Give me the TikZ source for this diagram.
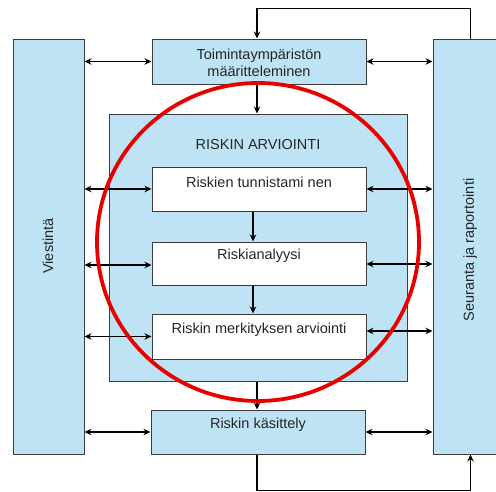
\documentclass[tikz,border=0pt]{standalone}
\usepackage{fontspec}
\setmainfont{Liberation Sans}
\usetikzlibrary{arrows.meta,calc}
\definecolor{boxblue}{RGB}{189,227,245}
\definecolor{edge}{RGB}{60,60,60}
\definecolor{ringred}{RGB}{232,0,0}
\tikzset{
  blue box/.style={draw=edge, fill=boxblue, line width=1pt, inner sep=0pt},
  white box/.style={draw=edge, fill=white, line width=1pt, inner sep=0pt},
  lbl/.style={font=\fontsize{14.5}{17}\selectfont, text=black!85, align=center, inner sep=0pt},
  arr/.style={-{Stealth[length=7pt,width=6.5pt]}, line width=1.5pt},
  dbl/.style={{Stealth[length=7pt,width=6.5pt]}-{Stealth[length=7pt,width=6.5pt]}, line width=1.5pt},
}
\begin{document}
\begin{tikzpicture}[x=1pt,y=-1pt]
\useasboundingbox (0,0) rectangle (496,491);
\clip (0,0) rectangle (496,491);
% side boxes
\node[blue box, minimum width=71pt, minimum height=415pt] (viest) at (48.5,246.5) {};
\node[blue box, minimum width=75pt, minimum height=415pt] (seur) at (470.5,246.5) {};
\node[lbl, rotate=90] (viestt) at (48,246) {Viestintä};
\node[lbl, rotate=90] (seurt) at (470,250) {Seuranta ja raportointi};
% top box
\node[blue box, minimum width=214pt, minimum height=45pt] (top) at (259,61.5) {};
\node[lbl] (topt) at (259,62.5) {Toimintaympäristön\\määritteleminen};
% big box
\node[blue box, minimum width=298pt, minimum height=267pt] (big) at (258,247.5) {};
\node[lbl] (bigt) at (258,145) {RISKIN ARVIOINTI};
% inner boxes
\node[white box, minimum width=214pt, minimum height=44pt] (tunn) at (259,189) {};
\node[lbl] (tunnt) at (259,182) {Riskien tunnistami nen};
\node[white box, minimum width=214pt, minimum height=43pt] (anal) at (259,263.5) {};
\node[lbl] (analt) at (259,256) {Riskianalyysi};
\node[white box, minimum width=214pt, minimum height=45pt] (merk) at (259,336.5) {};
\node[lbl] (merkt) at (259,330) {Riskin merkityksen arviointi};
% bottom box
\node[blue box, minimum width=214pt, minimum height=44pt] (kas) at (258,432) {};
\node[lbl] (kast) at (258,425) {Riskin käsittely};
% vertical arrows
\draw[arr] ([xshift=-2pt]top.south) -- ([xshift=-1pt]big.north);
\draw[arr] ([xshift=-6pt]tunn.south) -- ([xshift=-6pt]anal.north);
\draw[arr] ([xshift=-6pt]anal.south) -- ([xshift=-6pt]merk.north);
\draw[arr] ([xshift=-1pt]big.south) -- ([xshift=-1pt]kas.north);
% loops
\draw[arr] (seur.north) -- ++(0,-30) -| ([xshift=-2pt]top.north);
\draw[arr] ([xshift=-1pt]kas.south) -- ++(0,36) -| (seur.south);
% horizontal double arrows
\draw[dbl] (viest.east |- top.west) -- (top.west);
\draw[dbl] (top.east) -- (seur.west |- top.east);
\draw[dbl] (viest.east |- tunn.west) -- (tunn.west);
\draw[dbl] (tunn.east) -- (seur.west |- tunn.east);
\draw[dbl] ([yshift=-1.5pt]viest.east |- anal.west) -- ([yshift=-1.5pt]anal.west);
\draw[dbl] ([yshift=-0.5pt]anal.east) -- ([yshift=-0.5pt]seur.west |- anal.east);
\draw[dbl] (viest.east |- merk.west) -- (merk.west);
\draw[dbl] ([yshift=5.5pt]merk.east) -- ([yshift=5.5pt]seur.west |- merk.east);
\draw[dbl] (viest.east |- kas.west) -- (kas.west);
\draw[dbl] (kas.east) -- (seur.west |- kas.east);
% red ring
\draw[ringred, line width=3.8pt] (258,242) ellipse [x radius=161, y radius=159];
\end{tikzpicture}
\end{document}
